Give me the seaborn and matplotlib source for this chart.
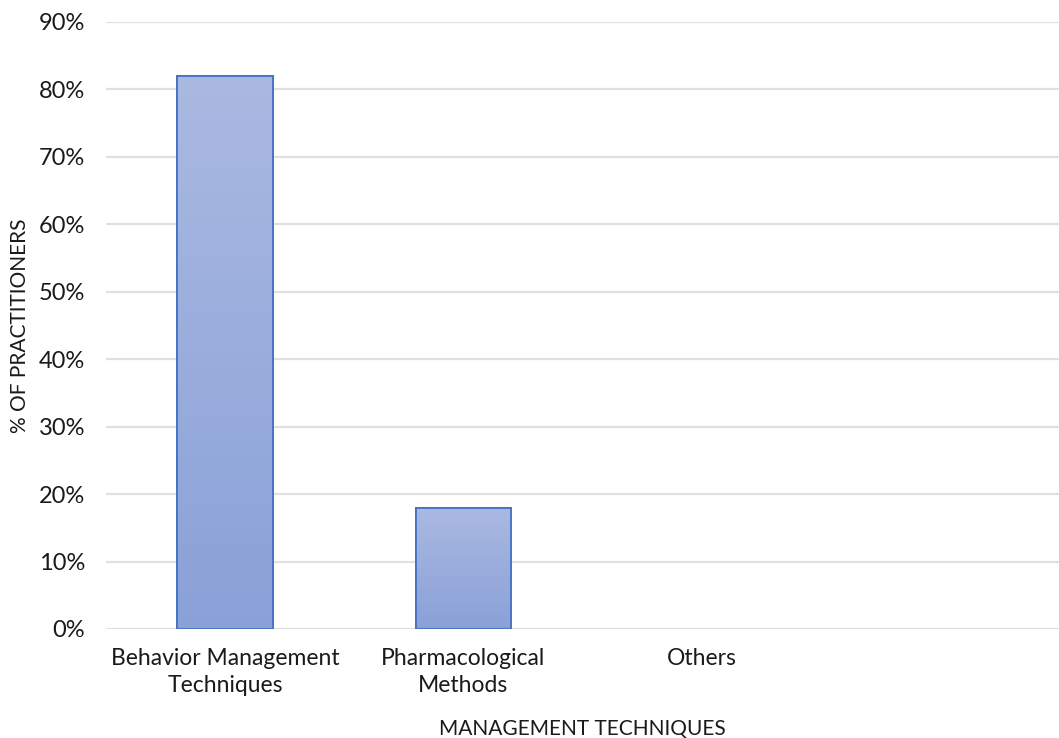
import numpy as np
import pandas as pd
import matplotlib
matplotlib.use("Agg")
import matplotlib.pyplot as plt
import seaborn as sns
from matplotlib.colors import LinearSegmentedColormap

categories = ["Behavior Management\nTechniques", "Pharmacological\nMethods", "Others", " "]
shares = [0.82, 0.18, 0.0, 0.0]
y_ticks = [0.0, 0.1, 0.2, 0.3, 0.4, 0.5, 0.6, 0.7, 0.8, 0.9]
y_tick_labels = ["0%", "10%", "20%", "30%", "40%", "50%", "60%", "70%", "80%", "90%"]

sns.set_theme(style="white")
plt.rcParams["font.family"] = ["Lato", "DejaVu Sans"]

df = pd.DataFrame({"technique": categories, "share": shares})

fig = plt.figure(figsize=(10.59, 7.38), dpi=100)
ax = fig.add_axes([0.1001, 0.1477, 0.8999, 0.8225])

sns.barplot(data=df, x="technique", y="share", order=categories, width=0.4,
            color="#9CAEDC", edgecolor="#4472C4", linewidth=1.3, ax=ax,
            saturation=1, zorder=3)

# vertical gradient fill inside each bar
grad = LinearSegmentedColormap.from_list("bar_grad", ["#8AA1D8", "#AAB9E1"])
gradient = np.linspace(0, 1, 256).reshape(-1, 1)
for patch in list(ax.patches):
    h = patch.get_height()
    if h <= 0:
        patch.set_visible(False)
        continue
    x0 = patch.get_x()
    w = patch.get_width()
    im = ax.imshow(gradient, cmap=grad, aspect="auto", origin="lower",
                   extent=[x0, x0 + w, 0, h], zorder=3.5)
    im.set_clip_path(patch)
    edge = plt.Rectangle((x0, 0), w, h, fill=False, edgecolor="#4472C4",
                         linewidth=1.3, zorder=4)
    ax.add_patch(edge)

ax.set_xlim(-0.5, 3.5)
ax.set_ylim(0, 0.9)
ax.set_yticks(y_ticks)
ax.set_yticklabels(y_tick_labels)
ax.yaxis.grid(True, color="#E0E0E0", linewidth=1.6, zorder=0)
ax.xaxis.grid(False)
for side in ["top", "right", "left", "bottom"]:
    ax.spines[side].set_visible(False)
ax.tick_params(axis="both", length=0, colors="#1a1a1a")
ax.tick_params(axis="y", pad=15, labelsize=17)
ax.tick_params(axis="x", pad=14, labelsize=16.5)
for lbl in ax.get_xticklabels():
    lbl.set_linespacing(1.3)

ax.set_xlabel("MANAGEMENT TECHNIQUES", fontsize=15, color="#1a1a1a", labelpad=17)
ax.set_ylabel("% OF PRACTITIONERS", fontsize=15, color="#1a1a1a", labelpad=6)

fig.savefig("out.png", dpi=100, facecolor="white")
